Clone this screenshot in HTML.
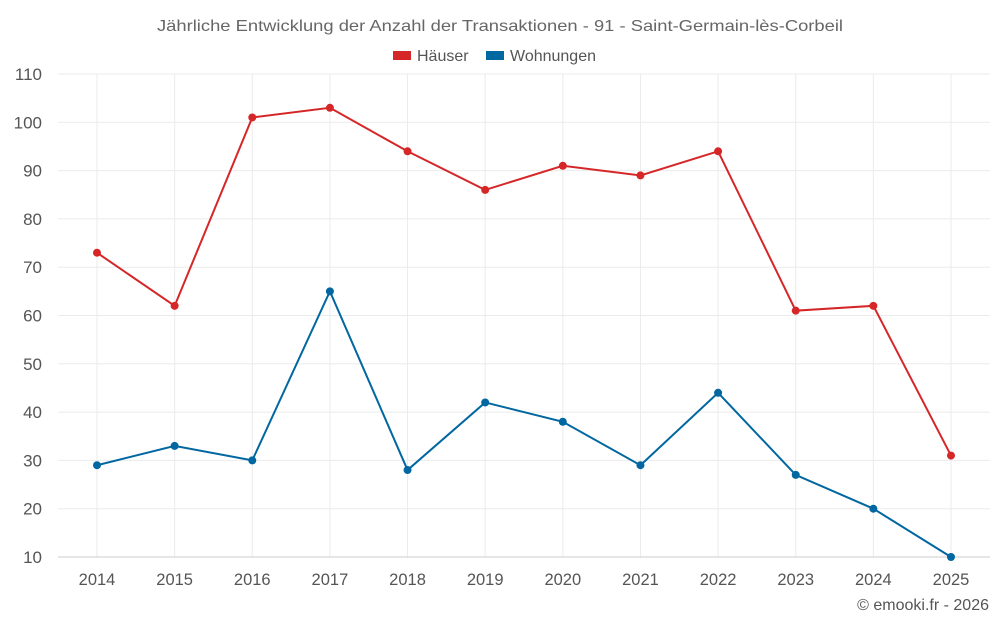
<!DOCTYPE html>
<html><head><meta charset="utf-8"><style>
body{margin:0;background:#fff;font-family:"Liberation Sans",sans-serif;}
svg text{font-family:"Liberation Sans",sans-serif;}
</style></head><body>
<svg id="chart" width="1000" height="625" xmlns="http://www.w3.org/2000/svg">
<text x="500" y="31" text-anchor="middle" font-size="16" textLength="686" lengthAdjust="spacingAndGlyphs" fill="#666">Jährliche Entwicklung der Anzahl der Transaktionen - 91 - Saint-Germain-lès-Corbeil</text>
<g>
<g><rect x="393" y="51" width="18" height="9" fill="#d62728"/><text x="417" y="61" font-size="16" fill="#555">Häuser</text></g>
<g><rect x="486" y="51" width="18" height="9" fill="#0067a1"/><text x="510" y="61" font-size="16" fill="#555">Wohnungen</text></g>
</g>
<g id="grid"></g>
<g id="axes"></g>
<g id="series"></g>
<text x="989" y="610" text-anchor="end" font-size="16" fill="#555">© emooki.fr - 2026</text>
</svg>
<script>
const years=[2014,2015,2016,2017,2018,2019,2020,2021,2022,2023,2024,2025];
const haeuser=[73,62,101,103,94,86,91,89,94,61,62,31];
const wohnungen=[29,33,30,65,28,42,38,29,44,27,20,10];
const yTicks=[10,20,30,40,50,60,70,80,90,100,110];
const NS="http://www.w3.org/2000/svg";
const L=58,R=990,T=74,B=557;
const x=i=>97+i*(951-97)/(years.length-1);
const y=v=>B-(v-10)*(B-T)/100;
function mk(tag,attrs,parent){const e=document.createElementNS(NS,tag);for(const k in attrs)e.setAttribute(k,attrs[k]);parent.appendChild(e);return e;}
const grid=document.getElementById('grid'),axes=document.getElementById('axes'),series=document.getElementById('series');
yTicks.forEach(t=>{
 const l=mk('line',{x1:L,x2:R,y1:y(t),y2:y(t),stroke:'#ebebeb'},grid);
 
 
 const tx=mk('text',{x:42,y:y(t)+6,'text-anchor':'end','font-size':17,fill:'#555'},axes);
 tx.textContent=t;
 
 
});
years.forEach((yr,i)=>{
 const l=mk('line',{x1:x(i),x2:x(i),y1:T,y2:B,stroke:'#ebebeb'},grid);
 
 
 const tx=mk('text',{x:x(i),y:585,'text-anchor':'middle','font-size':16.5,fill:'#555'},axes);
 tx.textContent=yr;
 
 
});
const ax=mk('line',{x1:L,x2:R,y1:B,y2:B,stroke:'#ccc'},axes);


function drawSeries(vals,color,name){
 const p=mk('polyline',{points:vals.map((v,i)=>x(i)+','+y(v)).join(' '),fill:'none',stroke:color,'stroke-width':2},series);
 
 
 vals.forEach((v,i)=>{
  const c=mk('circle',{cx:x(i),cy:y(v),r:4,fill:color},series);
  
  
 });
}
drawSeries(haeuser,'#d62728','haeuser');
drawSeries(wohnungen,'#0067a1','wohnungen');
</script>
</body></html>
